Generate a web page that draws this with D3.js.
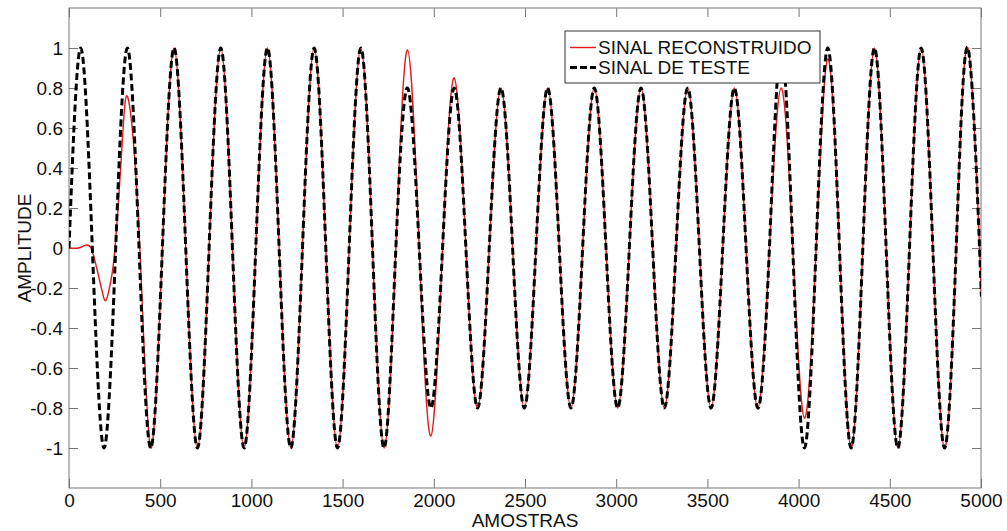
<!DOCTYPE html>
<html>
<head>
<meta charset="utf-8">
<script src="https://cdn.jsdelivr.net/npm/d3@7"></script>
<style>
  html, body { margin: 0; padding: 0; background: #fff; }
  svg { display: block; }
  text { font-family: "Liberation Sans", Arial, sans-serif; fill: #111; }
</style>
</head>
<body>
<svg id="chart" width="1007" height="531"></svg>
<script>
// ---- Data ----
const xTicks = [0, 500, 1000, 1500, 2000, 2500, 3000, 3500, 4000, 4500, 5000];
const yTicks = [-1, -0.8, -0.6, -0.4, -0.2, 0, 0.2, 0.4, 0.6, 0.8, 1];

// Test signal: key points (zero crossings and extrema) per quarter period
const testX = [
  0, 64, 128, 192, 256, 320, 384, 448, 512, 576, 640, 704, 768, 832, 896, 960,
  1024, 1088, 1152, 1216, 1280, 1344, 1408, 1472, 1536, 1600, 1664, 1728, 1792, 1856, 1920, 1984,
  2048, 2112, 2176, 2240, 2304, 2368, 2432, 2496, 2560, 2624, 2688, 2752, 2816, 2880, 2944, 3008,
  3072, 3136, 3200, 3264, 3328, 3392, 3456, 3520, 3584, 3648, 3712, 3776, 3840, 3904, 3968, 4032,
  4096, 4160, 4224, 4288, 4352, 4416, 4480, 4544, 4608, 4672, 4736, 4800, 4864, 4928, 4992, 5000
];
const testY = [
  0, 1, 0, -1, 0, 1, 0, -1, 0, 1, 0, -1, 0, 1, 0, -1,
  0, 1, 0, -1, 0, 1, 0, -1, 0, 1, 0, -1, 0, 0.8, 0, -0.8,
  0, 0.8, 0, -0.8, 0, 0.8, 0, -0.8, 0, 0.8, 0, -0.8, 0, 0.8, 0, -0.8,
  0, 0.8, 0, -0.8, 0, 0.8, 0, -0.8, 0, 0.8, 0, -0.8, 0, 1, 0, -1,
  0, 1, 0, -1, 0, 1, 0, -1, 0, 1, 0, -1, 0, 1, 0, -0.2
];

// Reconstructed signal: key points
const reconX = [
  0, 50, 85, 120, 152, 180, 203, 228, 252, 290, 325, 388, 448, 512, 576, 640, 704, 768, 832, 896, 960,
  1024, 1088, 1152, 1216, 1280, 1344, 1408, 1472, 1536, 1600, 1664, 1728, 1792, 1856, 1920, 1984,
  2048, 2112, 2176, 2240, 2304, 2368, 2432, 2496, 2560, 2624, 2688, 2752, 2816, 2880, 2944, 3008,
  3072, 3136, 3200, 3264, 3328, 3392, 3456, 3520, 3584, 3648, 3712, 3776, 3840, 3904, 3968, 4032,
  4096, 4160, 4224, 4288, 4352, 4416, 4480, 4544, 4608, 4672, 4736, 4800, 4864, 4928, 4992, 5000
];
const reconY = [
  0, 0, 0.012, 0, -0.1, -0.21, -0.262, -0.17, 0, 0.5, 0.745, 0, -1, 0, 1, 0, -1, 0, 1, 0, -1,
  0, 1, 0, -1, 0, 1, 0, -1, 0, 1, 0, -1, 0, 0.99, 0, -0.94,
  0, 0.85, 0, -0.8, 0, 0.8, 0, -0.8, 0, 0.8, 0, -0.8, 0, 0.8, 0, -0.8,
  0, 0.8, 0, -0.8, 0, 0.8, 0, -0.8, 0, 0.8, 0, -0.8, 0, 0.8, 0, -0.85,
  0, 0.945, 0, -1, 0, 1, 0, -1, 0, 1, 0, -1, 0, 1, 0, -0.2
];

const seriesNames = ["SINAL RECONSTRUIDO", "SINAL DE TESTE"];
const xLabel = "AMOSTRAS";
const yLabel = "AMPLITUDE";

// ---- Layout ----
const plot = { left: 69, right: 981, top: 8, bottom: 488 };
const svg = d3.select("#chart");

const x = d3.scaleLinear().domain([0, 5000]).range([plot.left, plot.right]);
const y = d3.scaleLinear().domain([-1.2, 1.2]).range([plot.bottom, plot.top]);

svg.append("defs").append("clipPath").attr("id", "clip")
  .append("rect")
  .attr("x", plot.left).attr("y", plot.top)
  .attr("width", plot.right - plot.left).attr("height", plot.bottom - plot.top);

const axisColor = "#777";
const fmt = d => String(+(+d).toFixed(1));

// Axes (ticks inward), plus mirrored top/right
const gx = svg.append("g").attr("transform", `translate(0,${plot.bottom})`)
  .call(d3.axisBottom(x).tickValues(xTicks).tickSizeInner(-9).tickSizeOuter(0).tickFormat(fmt));
const gxt = svg.append("g").attr("transform", `translate(0,${plot.top})`)
  .call(d3.axisTop(x).tickValues(xTicks).tickSizeInner(-9).tickSizeOuter(0).tickFormat(""));
const gy = svg.append("g").attr("transform", `translate(${plot.left},0)`)
  .call(d3.axisLeft(y).tickValues(yTicks).tickSizeInner(-9).tickSizeOuter(0).tickFormat(fmt));
const gyr = svg.append("g").attr("transform", `translate(${plot.right},0)`)
  .call(d3.axisRight(y).tickValues(yTicks).tickSizeInner(-9).tickSizeOuter(0).tickFormat(""));

[gx, gxt, gy, gyr].forEach(g => {
  g.select(".domain").remove();
  g.selectAll(".tick line").attr("stroke", axisColor);
  g.selectAll("text").attr("font-size", 19).attr("font-family", "'Liberation Sans', Arial, sans-serif").attr("fill", "#111");
});
gx.selectAll("text").attr("y", 0).attr("dy", "1.01em");
gy.selectAll("text").attr("x", -6);

svg.append("rect")
  .attr("x", plot.left).attr("y", plot.top)
  .attr("width", plot.right - plot.left).attr("height", plot.bottom - plot.top)
  .attr("fill", "none").attr("stroke", axisColor).attr("stroke-width", 1);

// Lines
const line = d3.line().x(d => x(d[0])).y(d => y(d[1])).curve(d3.curveNatural);
const reconData = reconX.map((v, i) => [v, reconY[i]]);
const testData = testX.map((v, i) => [v, testY[i]]);

const lines = svg.append("g").attr("clip-path", "url(#clip)");
lines.append("path").datum(reconData)
  .attr("d", line).attr("fill", "none")
  .attr("stroke", "#e01b1b").attr("stroke-width", 1.4);
lines.append("path").datum(testData)
  .attr("d", line).attr("fill", "none")
  .attr("stroke", "#000").attr("stroke-width", 3)
  .attr("stroke-dasharray", "7,3.5");

// Axis labels
svg.append("text")
  .attr("x", (plot.left + plot.right) / 2).attr("y", 527)
  .attr("text-anchor", "middle").attr("font-size", 19)
  .text(xLabel);
svg.append("text")
  .attr("transform", `translate(31,${(plot.top + plot.bottom) / 2}) rotate(-90)`)
  .attr("text-anchor", "middle").attr("font-size", 19)
  .text(yLabel);

// Legend
const lg = svg.append("g");
lg.append("rect").attr("x", 565).attr("y", 31).attr("width", 255).attr("height", 52)
  .attr("fill", "#fff").attr("stroke", "#333").attr("stroke-width", 1);
const legendRows = [
  { name: seriesNames[0], stroke: "#e01b1b", width: 1.4, dash: null, cy: 47.5 },
  { name: seriesNames[1], stroke: "#000", width: 3, dash: "7,3", cy: 67.5 }
];
legendRows.forEach(r => {
  lg.append("line").attr("x1", 570).attr("x2", 596).attr("y1", r.cy).attr("y2", r.cy)
    .attr("stroke", r.stroke).attr("stroke-width", r.width)
    .attr("stroke-dasharray", r.dash);
  lg.append("text").attr("x", 598).attr("y", r.cy).attr("dy", "0.36em")
    .attr("font-size", 19).text(r.name);
});
</script>
</body>
</html>
